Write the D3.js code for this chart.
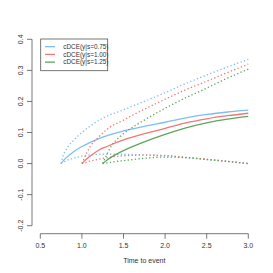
<!DOCTYPE html>
<html>
<head>
<meta charset="utf-8">
<script src="https://cdn.jsdelivr.net/npm/d3@7.9.0/dist/d3.min.js"></script>
<style>
  body { margin: 0; background: #fff; }
  svg { display: block; }
  text { font-family: "Liberation Sans", Arial, sans-serif; fill: #333; }
</style>
</head>
<body>
<svg id="chart" width="273" height="273"></svg>
<script>
// legend labels and colours
const groups = ["cDCE(y|s=0.75)", "cDCE(y|s=1.00)", "cDCE(y|s=1.25)"];
const colors = ["#7dbff0", "#f47676", "#5ea65e"];

// s = 0.75
const tBlue = [0.75, 0.77, 0.8, 0.9, 1.0, 1.1, 1.25, 1.5, 1.75, 2.0, 2.25, 2.5, 2.75, 3.0];
const estBlue = [0, 0.007, 0.016, 0.038, 0.055, 0.068, 0.085, 0.105, 0.12, 0.133, 0.147, 0.158, 0.166, 0.172];
const upBlue = [0, 0.022, 0.04, 0.075, 0.1, 0.121, 0.146, 0.173, 0.2, 0.228, 0.258, 0.285, 0.311, 0.335];
const loBlue = [0, 0.003, 0.008, 0.017, 0.024, 0.028, 0.03, 0.03, 0.028, 0.025, 0.019, 0.013, 0.007, 0];

// s = 1.00
const tRed = [1.0, 1.05, 1.1, 1.2, 1.3, 1.5, 1.75, 2.0, 2.25, 2.5, 2.75, 3.0];
const estRed = [0, 0.013, 0.024, 0.043, 0.055, 0.076, 0.096, 0.113, 0.131, 0.144, 0.154, 0.162];
const upRed = [0, 0.03, 0.055, 0.085, 0.11, 0.14, 0.175, 0.207, 0.238, 0.265, 0.293, 0.32];
const loRed = [0, 0.004, 0.008, 0.014, 0.019, 0.025, 0.027, 0.026, 0.02, 0.014, 0.007, 0];

// s = 1.25
const tGreen = [1.25, 1.3, 1.35, 1.45, 1.55, 1.75, 2.0, 2.25, 2.5, 2.75, 3.0];
const estGreen = [0, 0.011, 0.02, 0.035, 0.048, 0.07, 0.094, 0.115, 0.131, 0.143, 0.152];
const upGreen = [0, 0.03, 0.055, 0.085, 0.106, 0.14, 0.178, 0.212, 0.243, 0.275, 0.304];
const loGreen = [0, 0.002, 0.004, 0.008, 0.011, 0.017, 0.021, 0.019, 0.013, 0.007, 0];

const xTicks = [0.5, 1.0, 1.5, 2.0, 2.5, 3.0];
const yTicks = [-0.2, -0.1, 0.0, 0.1, 0.2, 0.3, 0.4];

const svg = d3.select("#chart");
const axisCol = "#555";

let x = d3.scaleLinear().domain([0.5, 3.0]).range([40.3, 248.3]);
let y = d3.scaleLinear().domain([-0.2, 0.4]).range([225.7, 39.3]);

// x axis (R style: line only over tick range)
let gx = svg.append("g").attr("transform", "translate(0,233.7)");
gx.append("line").attr("x1", x(0.5)).attr("x2", x(3.0))
  .attr("stroke", axisCol).attr("stroke-width", 0.8);
xTicks.forEach(t => {
  gx.append("line").attr("x1", x(t)).attr("x2", x(t)).attr("y1", 0).attr("y2", 5)
    .attr("stroke", axisCol).attr("stroke-width", 0.8);
  gx.append("text").attr("x", x(t)).attr("y", 14.5)
    .attr("text-anchor", "middle").attr("font-size", 7)
    .text(t.toFixed(1));
});

// y axis
let gy = svg.append("g").attr("transform", "translate(32,0)");
gy.append("line").attr("y1", y(-0.2)).attr("y2", y(0.4))
  .attr("stroke", axisCol).attr("stroke-width", 0.8);
yTicks.forEach(v => {
  gy.append("line").attr("x1", 0).attr("x2", -5).attr("y1", y(v)).attr("y2", y(v))
    .attr("stroke", axisCol).attr("stroke-width", 0.8);
  gy.append("text")
    .attr("transform", `translate(-9.5,${y(v)}) rotate(-90)`)
    .attr("text-anchor", "middle").attr("font-size", 7)
    .text(v.toFixed(1));
});

svg.append("text").attr("x", 144.3).attr("y", 263)
  .attr("text-anchor", "middle").attr("font-size", 7)
  .text("Time to event");

// curves
let line = d3.line()
  .x(d => x(d[0]))
  .y(d => y(d[1]))
  .curve(d3.curveMonotoneX);

const series = [
  [tBlue, estBlue, upBlue, loBlue],
  [tRed, estRed, upRed, loRed],
  [tGreen, estGreen, upGreen, loGreen]
];

series.forEach(([t, est, up, lo], i) => {
  [up, lo].forEach(vals => {
    svg.append("path")
      .attr("d", line(d3.zip(t, vals)))
      .attr("fill", "none")
      .attr("stroke", colors[i])
      .attr("stroke-width", 1.3)
      .attr("stroke-dasharray", "1.3,2.3");
  });
  svg.append("path")
    .attr("d", line(d3.zip(t, est)))
    .attr("fill", "none")
    .attr("stroke", colors[i])
    .attr("stroke-width", 1.3);
});

// legend
let lg = svg.append("g");
lg.append("rect").attr("x", 40.7).attr("y", 39).attr("width", 67).attr("height", 31.7)
  .attr("fill", "#fff").attr("stroke", "#555").attr("stroke-width", 0.8);
groups.forEach((g, i) => {
  let yy = 46.7 + i * 7.7;
  lg.append("line").attr("x1", 45).attr("x2", 55).attr("y1", yy).attr("y2", yy)
    .attr("stroke", colors[i]).attr("stroke-width", 1.3);
  lg.append("text").attr("x", 63.3).attr("y", yy + 2.3)
    .attr("font-size", 6.4).text(g);
});
</script>
</body>
</html>
